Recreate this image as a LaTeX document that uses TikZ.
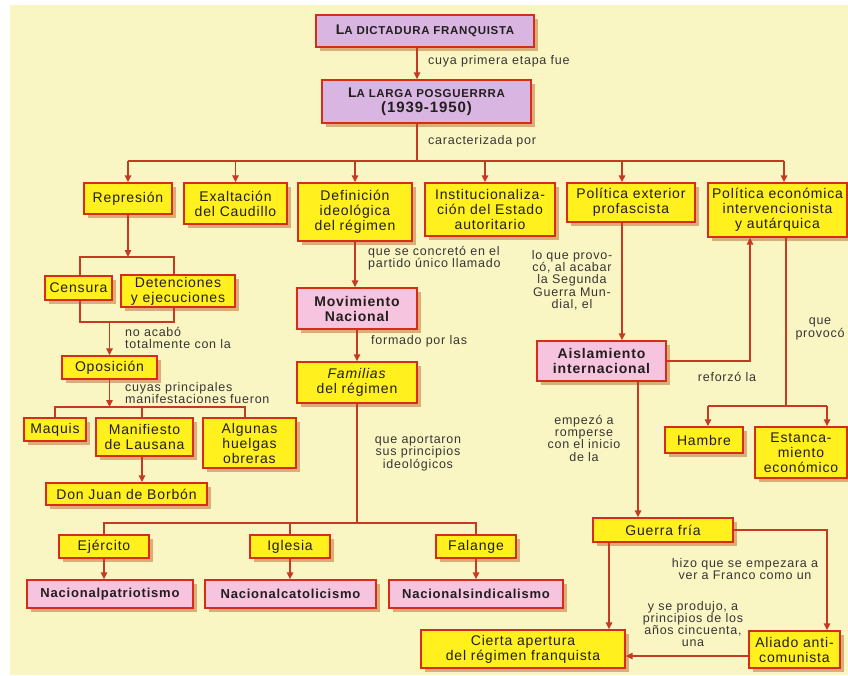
\documentclass[tikz,border=0pt]{standalone}
\usepackage{fontspec}
\setmainfont{Liberation Sans}[LetterSpace=6]
\usetikzlibrary{arrows.meta,shadows}
\definecolor{bg}{RGB}{250,246,196}
\definecolor{boxyellow}{RGB}{255,240,30}
\definecolor{boxpink}{RGB}{246,196,222}
\definecolor{boxpurple}{RGB}{217,182,226}
\definecolor{boxred}{RGB}{214,44,24}
\definecolor{linec}{RGB}{196,58,34}
\definecolor{shadowc}{RGB}{206,150,96}
\definecolor{txt}{RGB}{34,30,30}
\definecolor{labc}{RGB}{55,53,51}
\newcommand\bxfont{\fontsize{14}{15}\selectfont}
\newcommand\smc[1]{{\fontsize{11.5}{15}\selectfont #1}}
\begin{document}
\begin{tikzpicture}[x=1pt,y=-1pt,
  box/.style={draw=boxred, line width=1.4pt, fill=boxyellow, inner sep=1pt, align=center,
    font=\bxfont, text=txt,
    general shadow={fill=shadowc, fill opacity=.75, shadow xshift=4pt, shadow yshift=-4pt}},
  pbox/.style={box, fill=boxpink, font=\bxfont\bfseries},
  vbox/.style={box, fill=boxpurple, font=\bxfont\bfseries},
  conn/.style={draw=linec, line width=1.5pt},
  arr/.style={conn, -{Triangle[length=7pt,width=6.5pt]}},
  lab/.style={font=\fontsize{12.5}{12.3}\selectfont, text=labc, inner sep=0pt, align=center}]
\useasboundingbox (0,0) rectangle (848,675);
\clip (0,0) rectangle (848,675);
\fill[white] (0,0) rectangle (848,675);
\fill[bg] (10,5) rectangle (848,675);

% top
\node[vbox, minimum width=218pt, minimum height=32pt] (dict) at (425,31)
  {{\fontsize{14}{15}\selectfont L}\smc{A DICTADURA FRANQUISTA}};
\node[vbox, minimum width=209pt, minimum height=43pt] (larga) at (426.5,101.5)
  {{\fontsize{14}{16}\selectfont L}\smc{A LARGA POSGUERRRA}\\{\fontsize{15}{16}\selectfont (1939-1950)}};

% row 1
\node[box, minimum width=88pt, minimum height=31pt] (repr) at (128,198.5) {Represión};
\node[box, minimum width=103pt, minimum height=41pt] (exalt) at (235.5,203.5) {Exaltación\\del Caudillo};
\node[box, minimum width=114pt, minimum height=58pt] (defin) at (355,212) {Definición\\ideológica\\del régimen};
\node[box, minimum width=130pt, minimum height=53pt] (instit) at (490,209.5) {Institucionaliza-\\ción del Estado\\autoritario};
\node[box, minimum width=128pt, minimum height=39pt] (polext) at (631,202.5) {Política exterior\\profascista};
\node[box, minimum width=139pt, minimum height=54pt] (poleco) at (777.5,210) {Política económica\\intervencionista\\y autárquica};

% left
\node[box, minimum width=67pt, minimum height=24pt] (censura) at (78.5,288) {Censura};
\node[box, minimum width=114pt, minimum height=32pt] (deten) at (178,291) {Detenciones\\y ejecuciones};
\node[box, minimum width=95pt, minimum height=23pt] (oposic) at (109.5,367.5) {Oposición};
\node[box, minimum width=62pt, minimum height=23pt] (maquis) at (55,429.5) {Maquis};
\node[box, minimum width=97pt, minimum height=38pt] (manif) at (144.5,437) {Manifiesto\\de Lausana};
\node[box, minimum width=93pt, minimum height=50pt] (huelgas) at (249.5,443) {Algunas\\huelgas\\obreras};
\node[box, minimum width=161pt, minimum height=22pt] (donjuan) at (126.5,494) {Don Juan de Borbón};

% middle
\node[pbox, minimum width=120pt, minimum height=41pt] (movim) at (357,308.5) {Movimiento\\Nacional};
\node[box, minimum width=120pt, minimum height=41pt] (famil) at (357,382.5) {\textit{Familias}\\del régimen};
\node[box, minimum width=90pt, minimum height=23pt] (ejerc) at (104,546.5) {Ejército};
\node[box, minimum width=80pt, minimum height=23pt] (igles) at (290,546.5) {Iglesia};
\node[box, minimum width=80pt, minimum height=23pt] (falan) at (476,546.5) {Falange};
\node[pbox, font=\fontsize{13}{15}\selectfont\bfseries, minimum width=166pt, minimum height=28pt] (npat) at (110,594) {Nacionalpatriotismo};
\node[pbox, font=\fontsize{13}{15}\selectfont\bfseries, minimum width=171pt, minimum height=28pt] (ncat) at (290.5,594) {Nacionalcatolicismo};
\node[pbox, font=\fontsize{13}{15}\selectfont\bfseries, minimum width=174pt, minimum height=28pt] (nsind) at (476,594) {Nacionalsindicalismo};

% right
\node[pbox, minimum width=129pt, minimum height=40pt] (aisl) at (601.5,361) {Aislamiento\\internacional};
\node[box, minimum width=78pt, minimum height=26pt] (hambre) at (704,440) {Hambre};
\node[box, minimum width=92pt, minimum height=51pt] (estanc) at (801,452.5) {Estanca-\\miento\\económico};
\node[box, minimum width=140pt, minimum height=24pt] (guerra) at (663,530) {Guerra fría};
\node[box, minimum width=204pt, minimum height=38pt] (cierta) at (523,649) {Cierta apertura\\del régimen franquista};
\node[box, minimum width=91pt, minimum height=37pt] (aliado) at (794.5,649.5) {Aliado anti-\\comunista};

% labels
\node[lab, anchor=west] (l1) at (428,61) {cuya primera etapa fue};
\node[lab, anchor=west] (l2) at (428,141) {caracterizada por};
\node[lab, anchor=west, align=left] (l3) at (125,338) {no acabó\\totalmente con la};
\node[lab, anchor=west, align=left] (l4) at (125,393) {cuyas principales\\manifestaciones fueron};
\node[lab, anchor=west, align=left] (l5) at (368,258) {que se concretó en el\\partido único llamado};
\node[lab, anchor=west] (l6) at (371,341) {formado por las};
\node[lab] (l7) at (418,453) {que aportaron\\sus principios\\ideológicos};
\node[lab] (l8) at (572,280) {lo que provo-\\có, al acabar\\la Segunda\\Guerra Mun-\\dial, el};
\node[lab] (l9) at (727,377) {reforzó la};
\node[lab] (l10) at (820,329) {que\\provocó};
\node[lab] (l11) at (584,438) {empezó a\\romperse\\con el inicio\\de la};
\node[lab] (l12) at (745,569) {hizo que se empezara a\\ver a Franco como un};
\node[lab] (l13) at (693,624) {y se produjo, a\\principios de los\\años cincuenta,\\una};

% junction coordinates
\coordinate (t1) at ([xshift=-8pt]dict.south);
\coordinate (k) at ([xshift=-9.5pt]larga.south);
\coordinate (busL) at (128,161);
\coordinate (busR) at (784,161);
\coordinate (ai) at ([xshift=-5pt]instit.north);
\coordinate (ap) at ([xshift=-9pt]polext.north);
\coordinate (ae) at ([xshift=6.5pt]poleco.north);
\coordinate (b1L) at (80,257);
\coordinate (b1R) at (174,257);
\coordinate (b2L) at (80,322);
\coordinate (b2R) at (174,322);
\coordinate (b3L) at (55,407);
\coordinate (b3R) at (245,407);
\coordinate (m1) at ([xshift=-2.5pt]manif.south);
\coordinate (b4) at (357,523);
\coordinate (p1) at ([xshift=-9pt]polext.south);
\coordinate (r1) at (750,361);
\coordinate (q1) at ([xshift=8.5pt]poleco.south);
\coordinate (h1) at (708,406);
\coordinate (e1) at (827,406);
\coordinate (g1) at ([xshift=36.5pt]aisl.south);
\coordinate (g2) at ([xshift=-54pt]guerra.south);
\coordinate (g3) at (827,530);
\coordinate (al1) at ([yshift=-6.5pt]aliado.west);

% connectors
\draw[arr] (t1) -- (t1 |- larga.north);
\draw[conn] (k) -- (k |- busL);
\draw[conn] (busL) -- (busR);
\draw[arr] (repr.north |- busL) -- (repr.north);
\draw[arr] (exalt.north |- busL) -- (exalt.north);
\draw[arr] (defin.north |- busL) -- (defin.north);
\draw[arr] (ai |- busL) -- (ai);
\draw[arr] (ap |- busL) -- (ap);
\draw[arr] (ae |- busL) -- (ae);

\draw[arr] (repr.south) -- (repr.south |- b1L);
\draw[conn] (b1L |- censura.north) -- (b1L) -- (b1R) -- (b1R |- deten.north);
\draw[conn] (b2L |- censura.south) -- (b2L) -- (b2R) -- (b2R |- deten.south);
\draw[arr] (oposic.north |- b2L) -- (oposic.north);
\draw[arr] (oposic.south) -- (oposic.south |- b3L);
\draw[conn] (maquis.north) -- (b3L) -- (b3R) -- (b3R |- huelgas.north);
\draw[conn] (m1 |- b3L) -- (m1 |- manif.north);
\draw[arr] (m1) -- (m1 |- donjuan.north);

\draw[arr] (defin.south) -- (defin.south |- movim.north);
\draw[arr] (movim.south) -- (famil.north);
\draw[conn] (famil.south) -- (b4);
\draw[conn] (ejerc.north) -- (ejerc.north |- b4) -- (falan.north |- b4) -- (falan.north);
\draw[conn] (igles.north |- b4) -- (igles.north);
\draw[arr] (ejerc.south) -- (ejerc.south |- npat.north);
\draw[arr] (igles.south) -- (igles.south |- ncat.north);
\draw[arr] (falan.south) -- (falan.south |- nsind.north);

\draw[arr] (p1) -- (p1 |- aisl.north);
\draw[arr] (aisl.east) -- (r1) -- (r1 |- poleco.south);
\draw[conn] (q1) -- (q1 |- h1);
\draw[conn] (h1) -- (e1);
\draw[arr] (h1) -- (h1 |- hambre.north);
\draw[arr] (e1) -- (e1 |- estanc.north);
\draw[arr] (g1) -- (g1 |- guerra.north);
\draw[arr] (g2) -- (g2 |- cierta.north);
\draw[arr] (guerra.east) -- (g3) -- (g3 |- aliado.north);
\draw[arr] (al1) -- (al1 -| cierta.east);
\end{tikzpicture}
\end{document}
